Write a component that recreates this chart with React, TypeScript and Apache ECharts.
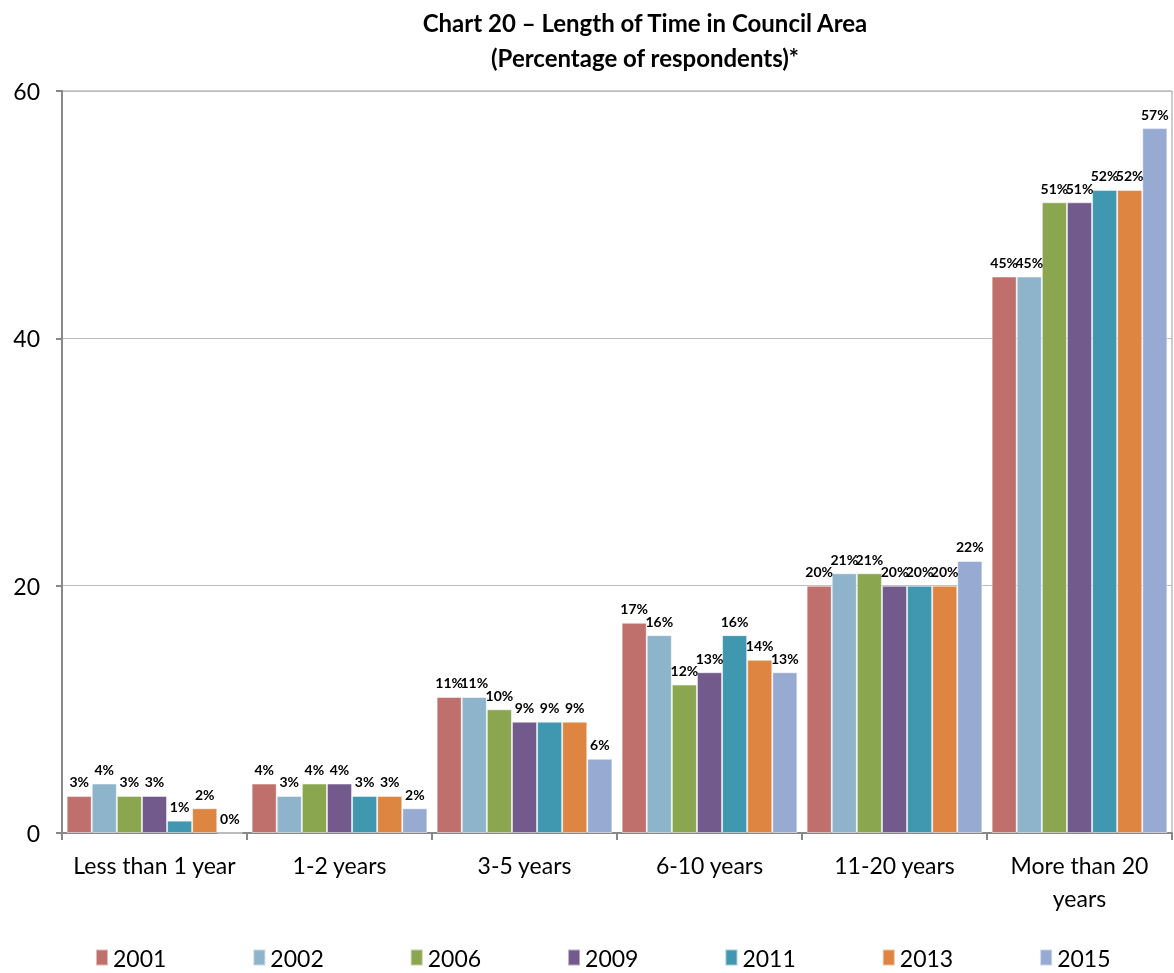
import React, { useEffect, useRef } from "react";
import * as echarts from "echarts";

const categories = ["Less than 1 year", "1-2 years", "3-5 years", "6-10 years", "11-20 years", "More than 20\nyears"];
const years = ["2001", "2002", "2006", "2009", "2011", "2013", "2015"];
const v2001 = [3, 4, 11, 17, 20, 45];
const v2002 = [4, 3, 11, 16, 21, 45];
const v2006 = [3, 4, 10, 12, 21, 51];
const v2009 = [3, 4, 9, 13, 20, 51];
const v2011 = [1, 3, 9, 16, 20, 52];
const v2013 = [2, 3, 9, 14, 20, 52];
const v2015 = [0, 2, 6, 13, 22, 57];
const seriesValues = [v2001, v2002, v2006, v2009, v2011, v2013, v2015];
const colors = ["#C0706C", "#8DB4CA", "#8AA64E", "#735A8C", "#4098B0", "#DD8541", "#97AAD2"];

const FONT = "Lato, 'Liberation Sans', sans-serif";

export default function App() {
  const ref = useRef<HTMLDivElement>(null);
  useEffect(() => {
    if (!ref.current) return;
    const chart = echarts.init(ref.current, undefined, { renderer: "svg" });
    chart.setOption({
      animation: false,
      textStyle: { fontFamily: FONT },
      title: {
        text: "Chart 20 – Length of Time in Council Area\n(Percentage of respondents)*",
        left: 640,
        textAlign: "center",
        top: 0,
        textStyle: { fontSize: 24, fontWeight: "bold", color: "#000", lineHeight: 35, fontFamily: FONT },
      },
      grid: {
        left: 62,
        right: 2,
        top: 91,
        bottom: 140,
        show: true,
        borderColor: "#999",
        borderWidth: 1,
      },
      legend: {
        top: 944,
        left: 93,
        padding: 2,
        itemWidth: 12,
        itemHeight: 16,
        itemGap: 86,
        icon: "rect",
        textStyle: { fontSize: 23, lineHeight: 23, color: "#000", fontFamily: FONT },
        data: years,
      },
      xAxis: {
        type: "category",
        data: categories,
        axisLine: { lineStyle: { color: "#888", width: 2 } },
        axisTick: { show: true, length: 7, lineStyle: { color: "#888", width: 2 } },
        axisLabel: { fontSize: 23, color: "#000", margin: 15, lineHeight: 33, interval: 0, fontFamily: FONT },
      },
      yAxis: {
        type: "value",
        min: 0,
        max: 60,
        interval: 20,
        axisLine: { show: true, lineStyle: { color: "#888", width: 2 } },
        axisTick: { show: true, length: 6, lineStyle: { color: "#888", width: 2 } },
        splitLine: { lineStyle: { color: "#BBB", width: 1 } },
        axisLabel: { fontSize: 23, color: "#000", margin: 22, fontFamily: FONT },
      },
      series: years.map((y, i) => ({
        name: y,
        type: "bar",
        data: seriesValues[i],
        barGap: "0%",
        barCategoryGap: "5%",
        itemStyle: { color: colors[i], borderColor: "rgba(255,255,255,0.5)", borderWidth: 1 },
        label: {
          show: true,
          position: "top",
          distance: 7,
          formatter: "{c}%",
          fontSize: 14,
          fontWeight: "bold",
          color: "#000",
          fontFamily: FONT,
        },
      })),
    });
    return () => chart.dispose();
  }, []);
  return <div ref={ref} style={{ position: "fixed", top: 0, left: 0, width: 1174, height: 973 }} />;
}
